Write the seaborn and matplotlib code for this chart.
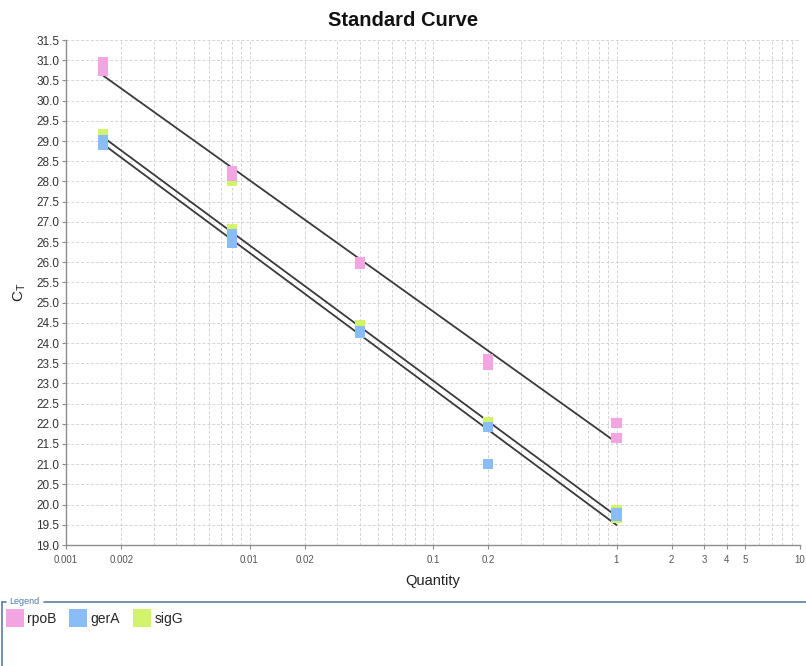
import numpy as np
import pandas as pd
import matplotlib
matplotlib.use("Agg")
import matplotlib.pyplot as plt
from matplotlib.lines import Line2D
from matplotlib.ticker import FixedLocator, FixedFormatter, NullFormatter
import seaborn as sns

# Dilution series (two replicate wells per quantity)
quantity = [0.0016, 0.0016, 0.008, 0.008, 0.04, 0.04, 0.2, 0.2, 1, 1]
rpoB_ct = [30.95, 30.74, 28.25, 28.13, 26.00, 25.96, 23.60, 23.46, 22.01, 21.65]
gerA_ct = [29.02, 28.90, 26.69, 26.48, 24.29, 24.26, 21.91, 21.00, 19.78, 19.72]
sigG_ct = [29.17, 29.00, 28.01, 26.82, 24.44, 24.33, 22.04, 21.95, 19.86, 19.66]
# wells left out of the regression
sigG_omitted = [2]

targets = ["rpoB", "gerA", "sigG"]
colors = {"rpoB": "#F3A5E2", "gerA": "#8ABDF7", "sigG": "#D2F46A"}

x_ticks = [0.001, 0.002, 0.01, 0.02, 0.1, 0.2, 1, 2, 3, 4, 5, 10]
x_tick_labels = ["0.001", "0.002", "0.01", "0.02", "0.1", "0.2", "1", "2", "3", "4", "5", "10"]
y_ticks = np.arange(19.0, 31.51, 0.5)

ct_by_target = {"rpoB": rpoB_ct, "gerA": gerA_ct, "sigG": sigG_ct}
omitted = {"rpoB": [], "gerA": [], "sigG": sigG_omitted}

# draw order: sigG underneath, rpoB on top
rows = []
for t in ["sigG", "gerA", "rpoB"]:
    for q, c in zip(quantity, ct_by_target[t]):
        rows.append({"Target": t, "Quantity": q, "CT": c})
df = pd.DataFrame(rows)

sns.set_theme(style="white")
plt.rcParams["font.family"] = ["Liberation Sans", "DejaVu Sans"]

fig = plt.figure(figsize=(8.06, 6.66), dpi=100)
ax = fig.add_axes([66 / 806, 1 - 545 / 666, 734 / 806, 505 / 666])

# standard curve fits: Ct = slope * log10(Q) + intercept
for t in targets:
    q = np.array(quantity)
    c = np.array(ct_by_target[t])
    keep = np.ones(len(q), bool)
    keep[omitted[t]] = False
    slope, icpt = np.polyfit(np.log10(q[keep]), c[keep], 1)
    xs = np.array([q.min(), q.max()])
    ax.plot(xs, slope * np.log10(xs) + icpt, color="#3a3a3a", lw=1.3, zorder=2)

sns.scatterplot(data=df, x="Quantity", y="CT", hue="Target", palette=colors,
                marker="s", s=52, linewidth=0, legend=False, ax=ax, zorder=3)

ax.set_xscale("log")
ax.set_xlim(0.001, 10)
ax.set_ylim(19.0, 31.5)

minor_x = [m * 10.0 ** e for e in range(-3, 1) for m in range(2, 10)]
ax.xaxis.set_minor_locator(FixedLocator(minor_x))
ax.xaxis.set_minor_formatter(NullFormatter())
ax.xaxis.set_major_locator(FixedLocator(x_ticks))
ax.xaxis.set_major_formatter(FixedFormatter(x_tick_labels))
ax.set_yticks(y_ticks)
ax.set_yticklabels([f"{v:.1f}" for v in y_ticks])

ax.grid(True, which="both", axis="both", color="#d4d4d4", lw=0.7, ls=(0, (3, 2)))
ax.set_axisbelow(True)
for side in ["top", "right"]:
    ax.spines[side].set_visible(False)
for side in ["left", "bottom"]:
    ax.spines[side].set_color("#8c8c8c")
    ax.spines[side].set_linewidth(1.0)

ax.tick_params(axis="y", which="major", labelsize=8.5, colors="#8c8c8c",
               labelcolor="#333333", length=3, width=0.8, left=True, pad=2)
ax.tick_params(axis="x", which="major", labelsize=7, colors="#8c8c8c",
               labelcolor="#555555", length=3, width=0.8, bottom=True, pad=4)
ax.tick_params(axis="x", which="minor", length=0)

ax.set_xlabel("Quantity", fontsize=10.5, color="#222222", labelpad=7)
ax.set_ylabel("C$_\\mathregular{T}$", fontsize=11, color="#222222", labelpad=2)
ax.yaxis.set_label_coords(-38 / 734, 0.5)

fig.text(0.5, 1 - 21 / 666, "Standard Curve", ha="center", va="center",
         fontsize=14.5, fontweight="bold", color="#111111")

# legend panel at the bottom
frame_c = "#5f7f9f"
y_top = 1 - 602 / 666
fig.add_artist(Line2D([2 / 806, 2 / 806], [0, y_top], color=frame_c, lw=1.2,
                      transform=fig.transFigure))
fig.add_artist(Line2D([2 / 806, 6 / 806], [y_top, y_top], color=frame_c, lw=1.2,
                      transform=fig.transFigure))
fig.add_artist(Line2D([44 / 806, 1.0], [y_top, y_top], color=frame_c, lw=1.2,
                      transform=fig.transFigure))
fig.text(9 / 806, y_top, "Legend", ha="left", va="center", fontsize=6.5,
         color="#4a78b0")

handles = [Line2D([], [], marker="s", ls="none", markersize=12.5,
                  markerfacecolor=colors[t], markeredgewidth=0) for t in targets]
fig.legend(handles, targets, loc="upper left", bbox_to_anchor=(3 / 806, 1 - 606 / 666),
           ncol=3, frameon=False, fontsize=10, handlelength=0.9, handletextpad=0.45,
           columnspacing=1.1, borderaxespad=0)

fig.savefig("out.png", dpi=100)
